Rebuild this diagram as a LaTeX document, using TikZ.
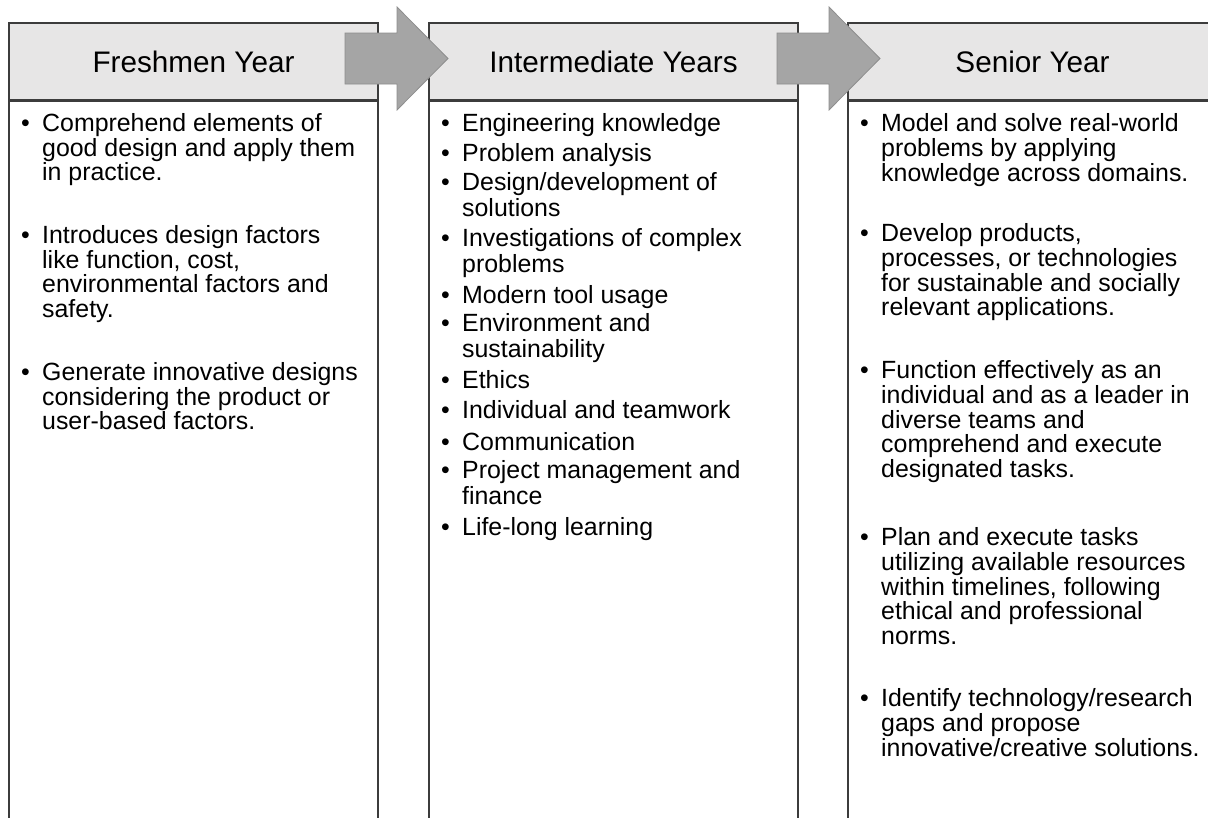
\documentclass[tikz,border=0pt]{standalone}
\usepackage{fontspec}
\setmainfont{Liberation Sans}
\definecolor{headgray}{HTML}{E7E6E6}
\definecolor{framegray}{HTML}{3C3C3C}
\definecolor{arrowgray}{HTML}{A5A5A5}
\definecolor{arrowline}{HTML}{8E8E8E}
\newcommand{\bul}[1]{\makebox[21pt][l]{\textbullet}\parbox[t]{330pt}{\raggedright #1}}
\tikzset{
  yearhead/.style={draw=framegray, line width=1.4pt, fill=headgray, minimum width=369pt,
    minimum height=77pt, inner sep=0pt, font=\fontsize{29.7}{33}\selectfont},
  bodybox/.style={draw=framegray, line width=1.4pt, fill=white},
  itemtext/.style={anchor=base west, inner sep=0pt, text=black},
  stepsarrow/.style={fill=arrowgray, draw=arrowline, line width=0.8pt, line join=miter}
}
\begin{document}
\begin{tikzpicture}[x=1pt, y=-1pt]
  \useasboundingbox (0,0) rectangle (1208,817);
  \clip (0,0) rectangle (1208,817);
  \fill[white] (0,0) rectangle (1208,817);

  % columns
  \draw[bodybox] (9,100) rectangle (378,830);
  \draw[bodybox] (429,100) rectangle (798,830);
  \draw[bodybox] (848,100) rectangle (1217,830);
  \node[yearhead] (fresh) at (193.5,61.5) {Freshmen Year};
  \node[yearhead] (inter) at (613.5,61.5) {Intermediate Years};
  \node[yearhead] (senior) at (1032.5,61.5) {Senior Year};
  \foreach \hd in {fresh,inter,senior}
    \draw[framegray, line width=2.4pt] (\hd.south west) -- (\hd.south east);

  % block arrows between the columns
  \foreach \ax in {345,777} {
    \draw[stepsarrow] (\ax,33) -- ++(52,0) -- ++(0,-26) -- ++(51,51.5)
      -- ++(-51,51.5) -- ++(0,-26) -- ++(-52,0) -- cycle;
  }

  % freshmen year
  \begin{scope}[every node/.style={itemtext, font=\fontsize{24.9}{24.5}\selectfont}]
    \node (fy1) at (21,131.5) {\bul{Comprehend elements of\\good design and apply them\\in practice.}};
    \node (fy2) at (21,243.5) {\bul{Introduces design factors\\like function, cost,\\environmental factors and\\safety.}};
    \node (fy3) at (21,380.5) {\bul{Generate innovative designs\\considering the product or\\user-based factors.}};
  \end{scope}

  % intermediate years
  \begin{scope}[every node/.style={itemtext, font=\fontsize{24.9}{26.3}\selectfont}]
    \foreach \yy/\txt [count=\i] in {131.5/{Engineering knowledge},
        161.5/{Problem analysis},
        190.5/{Design/development of\\solutions},
        246.5/{Investigations of complex\\problems},
        303.5/{Modern tool usage},
        331.5/{Environment and\\sustainability},
        388.5/{Ethics},
        418.5/{Individual and teamwork},
        450.5/{Communication},
        478.5/{Project management and\\finance},
        535.5/{Life-long learning}} {
      \node (iy\i) at (441,\yy) {\bul{\txt}};
    }
  \end{scope}

  % senior year
  \begin{scope}[every node/.style={itemtext, font=\fontsize{24.9}{24.8}\selectfont}]
    \node (sy1) at (860,131.5) {\bul{Model and solve real-world\\problems by applying\\knowledge across domains.}};
    \node (sy2) at (860,241.5) {\bul{Develop products,\\processes, or technologies\\for sustainable and socially\\relevant applications.}};
    \node (sy3) at (860,378.5) {\bul{Function effectively as an\\individual and as a leader in\\diverse teams and\\comprehend and execute\\designated tasks.}};
    \node (sy4) at (860,545.5) {\bul{Plan and execute tasks\\utilizing available resources\\within timelines, following\\ethical and professional\\norms.}};
    \node (sy5) at (860,706.5) {\bul{Identify technology/research\\gaps and propose\\innovative/creative solutions.}};
  \end{scope}
\end{tikzpicture}
\end{document}
